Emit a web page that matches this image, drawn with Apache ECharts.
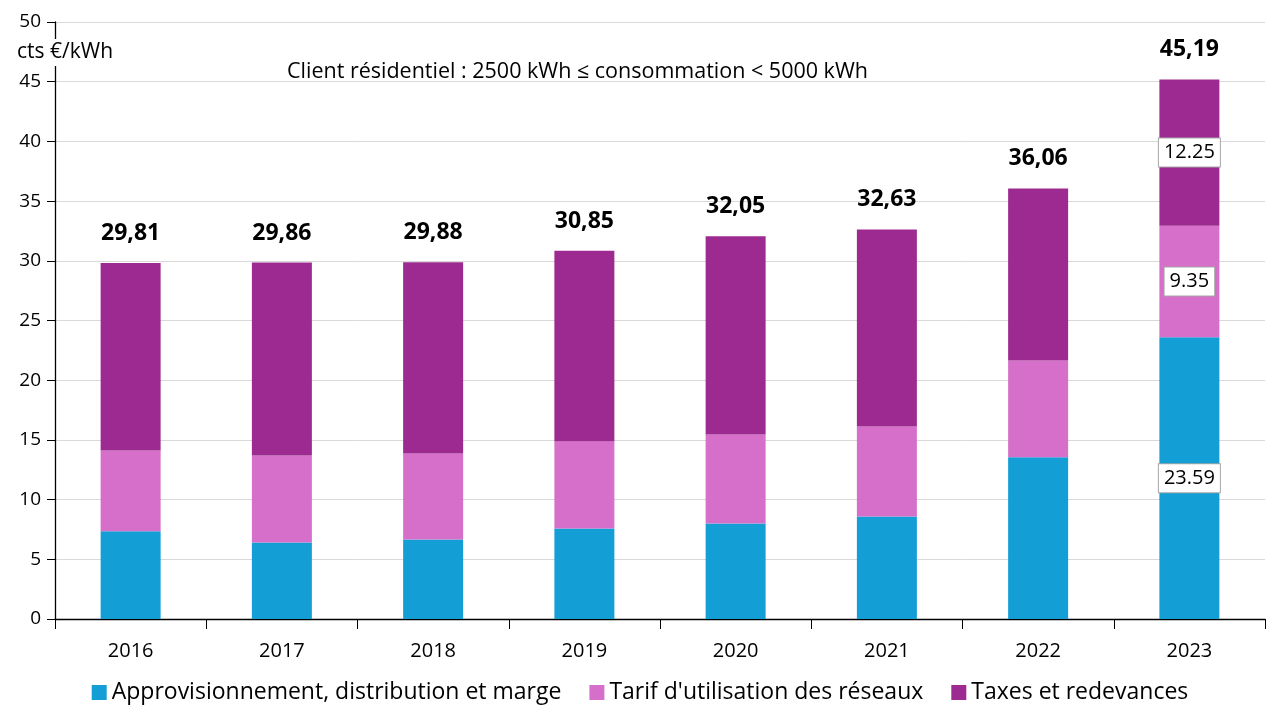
<!DOCTYPE html>
<html><head><meta charset="utf-8">
<script src="https://cdn.jsdelivr.net/npm/echarts@6/dist/echarts.min.js"></script>
<style>html,body{margin:0;padding:0;background:#fff}#c{width:1280px;height:720px}</style>
</head><body><div id="c"></div>
<script>
const years = ['2016','2017','2018','2019','2020','2021','2022','2023'];
const approvisionnement = [7.34, 6.40, 6.65, 7.59, 7.99, 8.58, 13.55, 23.59];
const tarifReseaux = [6.77, 7.29, 7.21, 7.27, 7.46, 7.54, 8.10, 9.35];
const taxes = [15.70, 16.17, 16.02, 15.99, 16.60, 16.51, 14.41, 12.25];
const totals = [29.81, 29.86, 29.88, 30.85, 32.05, 32.63, 36.06, 45.19];
const yTicks = [0, 5, 10, 15, 20, 25, 30, 35, 40, 45, 50];
const seriesNames = ['Approvisionnement, distribution et marge', "Tarif d'utilisation des réseaux", 'Taxes et redevances'];
const colors = ['#139FD6', '#D56FC9', '#9D2A90'];
const labelledIndex = 7;

const FONT = 'Open Sans';
const boxLabel = {
  show: true, position: 'inside',
  formatter: p => p.value.toFixed(2),
  backgroundColor: '#fff', borderColor: '#a6a6a6', borderWidth: 1,
  padding: [5, 5, 3, 5], color: '#000', fontSize: 20, fontFamily: FONT
};
const withLabel = arr => arr.map((v, i) => i === labelledIndex ? { value: v, label: boxLabel } : v);

const chart = echarts.init(document.getElementById('c'));
chart.setOption({
  animation: false,
  textStyle: { fontFamily: FONT },
  grid: { left: 55, right: 15, top: 22, bottom: 101, containLabel: false },
  xAxis: {
    type: 'category', data: years,
    axisLine: { lineStyle: { color: '#000', width: 1.3 } },
    axisTick: { show: true, length: 10, lineStyle: { color: '#000' } },
    axisLabel: { color: '#000', fontSize: 20, fontFamily: FONT, margin: 22 }
  },
  yAxis: {
    type: 'value', min: 0, max: 50, interval: 5,
    axisLine: { show: true, lineStyle: { color: '#000', width: 1.3 } },
    axisTick: { show: true, length: 8, inside: false, lineStyle: { color: '#000' } },
    axisLabel: { color: '#000', fontSize: 19, fontFamily: FONT, margin: 14,
      formatter: v => yTicks.includes(v) ? String(v) : '' },
    splitLine: { lineStyle: { color: '#d9d9d9', width: 1 } }
  },
  legend: {
    bottom: 11, left: 'center', data: seriesNames,
    itemWidth: 15, itemHeight: 15, itemGap: 28, icon: 'rect',
    textStyle: { color: '#000', fontSize: 23, fontFamily: FONT, padding: [0, 0, 0, 0] }
  },
  series: [
    { name: seriesNames[0], type: 'bar', stack: 's', data: withLabel(approvisionnement), barWidth: 60,
      itemStyle: { color: colors[0] } },
    { name: seriesNames[1], type: 'bar', stack: 's', data: withLabel(tarifReseaux), barWidth: 60,
      itemStyle: { color: colors[1] } },
    { name: seriesNames[2], type: 'bar', stack: 's', data: withLabel(taxes), barWidth: 60,
      itemStyle: { color: colors[2] } },
    { name: 'Total', type: 'line', data: totals, symbol: 'circle', symbolSize: 2, showSymbol: true,
      silent: true, itemStyle: { color: 'rgba(0,0,0,0)', borderWidth: 0 }, lineStyle: { width: 0, color: 'rgba(0,0,0,0)' }, z: 10,
      label: { show: true, position: 'top', distance: 17, color: '#000', fontSize: 23,
        fontWeight: 'bold', fontFamily: FONT,
        formatter: p => p.value.toFixed(2).replace('.', ',') } }
  ],
  graphic: [
    { type: 'text', left: 17, top: 39, z: 100,
      style: { text: 'cts €/kWh', fontSize: 21, fontFamily: FONT, fill: '#000',
        backgroundColor: '#fff', padding: [3, 2, 3, 0] } },
    { type: 'text', left: 287, top: 61, z: 100,
      style: { text: 'Client résidentiel : 2500 kWh ≤ consommation < 5000 kWh', fontSize: 21.5, fontFamily: FONT, fill: '#000' } }
  ]
});
</script></body></html>
